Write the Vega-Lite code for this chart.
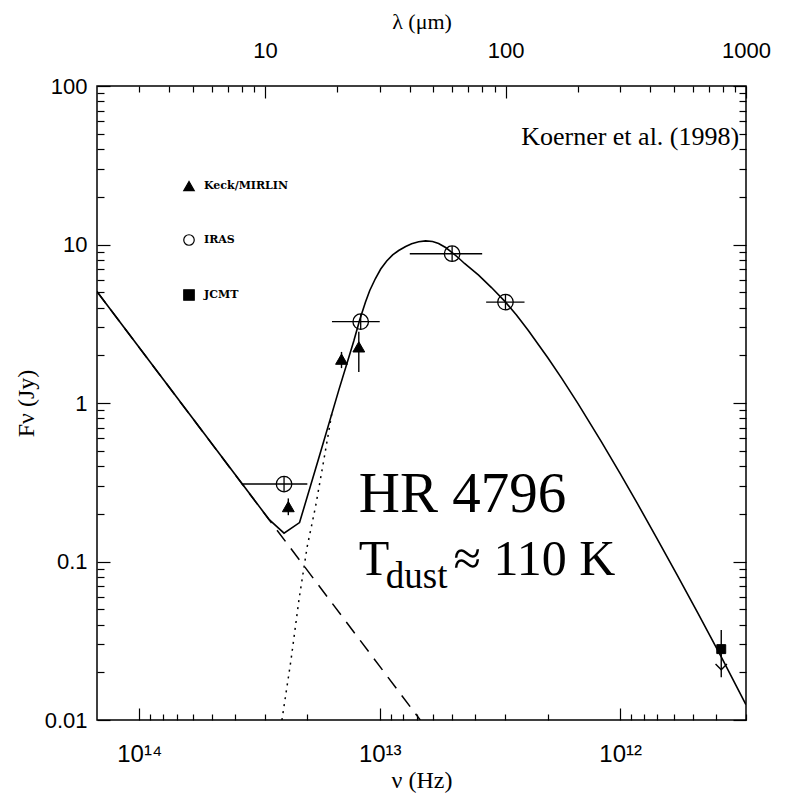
{
  "$schema": "https://vega.github.io/schema/vega-lite/v6.json",
  "width": 649,
  "height": 634,
  "autosize": {"type": "none"},
  "padding": {"left": 97, "top": 86, "right": 43, "bottom": 92},
  "background": "white",
  "config": {
    "view": {"stroke": "black", "strokeWidth": 1.5},
    "axis": {
      "grid": false,
      "domain": false,
      "tickColor": "black",
      "tickWidth": 1.2,
      "labelColor": "black",
      "labelFont": "Liberation Sans",
      "labelFontSize": 22,
      "labelOverlap": false,
      "labelBound": false,
      "labelFlush": false,
      "titleColor": "black",
      "titleFont": "Liberation Serif",
      "titleFontSize": 22,
      "titleFontWeight": "normal"
    },
    "legend": {
      "orient": "none",
      "legendX": 86,
      "legendY": 94,
      "direction": "vertical",
      "labelFont": "DejaVu Serif",
      "labelFontWeight": "bold",
      "labelFontSize": 11,
      "labelColor": "black",
      "rowPadding": 39,
      "symbolSize": 110,
      "symbolStrokeWidth": 1.2,
      "labelOffset": 9
    }
  },
  "datasets": {
    "total": [
      {"nu": 1.5e14, "F": 5.05},
      {"nu": 2.888e13, "F": 0.1845},
      {"nu": 2.5e13, "F": 0.151},
      {"nu": 2.155e13, "F": 0.176},
      {"nu": 1.791e13, "F": 0.452},
      {"nu": 1.48e13, "F": 1.206},
      {"nu": 1.282e13, "F": 2.462},
      {"nu": 1.211e13, "F": 3.35},
      {"nu": 1.146e13, "F": 4.34},
      {"nu": 1.1003e13, "F": 5.126},
      {"nu": 1.042e13, "F": 6.1},
      {"nu": 9.906e12, "F": 7.005},
      {"nu": 9.354e12, "F": 7.87},
      {"nu": 8.837e12, "F": 8.59},
      {"nu": 8.341e12, "F": 9.165},
      {"nu": 7.8e12, "F": 9.71},
      {"nu": 7.366e12, "F": 10.1},
      {"nu": 6.89e12, "F": 10.4},
      {"nu": 6.445e12, "F": 10.54},
      {"nu": 6.03e12, "F": 10.45},
      {"nu": 5.691e12, "F": 10.15},
      {"nu": 5.322e12, "F": 9.57},
      {"nu": 5.0e12, "F": 8.9},
      {"nu": 4.7e12, "F": 8.22},
      {"nu": 4.44e12, "F": 7.59},
      {"nu": 3.88e12, "F": 6.4},
      {"nu": 3.43e12, "F": 5.35},
      {"nu": 3.01e12, "F": 4.36},
      {"nu": 2.7e12, "F": 3.59},
      {"nu": 2.41e12, "F": 2.87},
      {"nu": 2.0e12, "F": 1.93},
      {"nu": 1.75e12, "F": 1.43},
      {"nu": 1.5e12, "F": 0.994},
      {"nu": 1.2e12, "F": 0.573},
      {"nu": 1.0e12, "F": 0.358},
      {"nu": 8.5e11, "F": 0.2335},
      {"nu": 7.0e11, "F": 0.138},
      {"nu": 5.8e11, "F": 0.0824},
      {"nu": 4.74e11, "F": 0.0469},
      {"nu": 3.8e11, "F": 0.02505},
      {"nu": 3.0e11, "F": 0.0125}
    ],
    "star": [
      {"nu": 1.5e14, "F": 5.05},
      {"nu": 6.785e12, "F": 0.01}
    ],
    "dust": [
      {"nu": 2.551e13, "F": 0.01},
      {"nu": 2.339e13, "F": 0.0239},
      {"nu": 2.168e13, "F": 0.0571},
      {"nu": 2.003e13, "F": 0.124},
      {"nu": 1.849e13, "F": 0.222},
      {"nu": 1.708e13, "F": 0.437},
      {"nu": 1.578e13, "F": 0.877}
    ],
    "iras": [
      {"nu": 2.5e13, "F": 0.308, "lo": 3.75e13, "hi": 2.0e13},
      {"nu": 1.2e13, "F": 3.26, "lo": 1.58e13, "hi": 1.0e13},
      {"nu": 5.0e12, "F": 8.75, "lo": 7.5e12, "hi": 3.75e12},
      {"nu": 3.0e12, "F": 4.33, "lo": 3.61e12, "hi": 2.5e12}
    ],
    "verr": [
      {"nu": 2.4e13, "Flo": 0.196, "Fhi": 0.25},
      {"nu": 1.442e13, "Flo": 1.66, "Fhi": 2.1},
      {"nu": 1.222e13, "Flo": 1.57, "Fhi": 2.82},
      {"nu": 3.8e11, "Flo": 0.0186, "Fhi": 0.037}
    ],
    "points": [
      {"inst": "Keck/MIRLIN", "nu": 2.4e13, "F": 0.222},
      {"inst": "Keck/MIRLIN", "nu": 1.442e13, "F": 1.89},
      {"inst": "Keck/MIRLIN", "nu": 1.222e13, "F": 2.26},
      {"inst": "IRAS", "nu": 2.5e13, "F": 0.308},
      {"inst": "IRAS", "nu": 1.2e13, "F": 3.26},
      {"inst": "IRAS", "nu": 5.0e12, "F": 8.75},
      {"inst": "IRAS", "nu": 3.0e12, "F": 4.33},
      {"inst": "JCMT", "nu": 3.8e11, "F": 0.028}
    ],
    "limit": [
      {"nu": 3.8e11, "F": 0.0213}
    ],
    "nudummy": [
      {"nu": 1e13, "F": 1}
    ],
    "lamdummy": [
      {"lam": 10, "F": 1}
    ],
    "bigtext": [
      {"nu": 1.222e13, "F": 0.205, "label": "HR 4796"}
    ],
    "ttext": [
      {"nu": 1.222e13, "F": 0.0822, "label": "T"},
      {"nu": 4.93e12, "F": 0.0822, "label": "≈ 110 K"}
    ],
    "subtext": [
      {"nu": 9.44e12, "F": 0.068, "label": "dust"}
    ],
    "cite": [
      {"nu": 3.2e11, "F": 42.5, "label": "Koerner et al. (1998)"}
    ]
  },
  "layer": [
    {
      "layer": [
        {
          "data": {"name": "star"},
          "mark": {"type": "line", "color": "black", "strokeWidth": 1.5, "strokeDash": [14, 9], "clip": true},
          "encoding": {
            "x": {
              "field": "nu", "type": "quantitative",
              "scale": {"type": "log", "domain": [1.499e14, 2.998e11], "nice": false, "zero": false},
              "axis": {
                "orient": "bottom",
                "title": "ν (Hz)",
                "titleFontSize": 24,
                "titlePadding": 2,
                "values": [1e12, 1e13, 1e14],
                "labelExpr": "datum.value > 5e13 ? '10\u00b9\u2074' : datum.value > 5e12 ? '10\u00b9\u00b3' : '10\u00b9\u00b2'",
                "labelFontSize": 24,
                "tickSize": 12,
                "offset": -12,
                "labelPadding": 22
              }
            },
            "y": {
              "field": "F", "type": "quantitative",
              "scale": {"type": "log", "domain": [0.01, 100], "nice": false, "zero": false},
              "axis": {
                "orient": "left",
                "title": "Fν (Jy)",
                "titleFontSize": 24,
                "titlePadding": 6,
                "values": [0.01, 0.1, 1, 10, 100],
                "labelExpr": "'' + datum.value",
                "tickSize": 13,
                "offset": -13,
                "labelPadding": 10
              }
            }
          }
        },
        {
          "data": {"name": "dust"},
          "mark": {"type": "line", "color": "black", "strokeWidth": 1.5, "strokeDash": [2, 5], "clip": true},
          "encoding": {
            "x": {"field": "nu", "type": "quantitative"},
            "y": {"field": "F", "type": "quantitative"},
            "order": {"field": "nu", "sort": "descending"}
          }
        },
        {
          "data": {"name": "total"},
          "mark": {"type": "line", "color": "black", "strokeWidth": 1.6, "clip": true},
          "encoding": {
            "x": {"field": "nu", "type": "quantitative"},
            "y": {"field": "F", "type": "quantitative"},
            "order": {"field": "nu", "sort": "descending"}
          }
        },
        {
          "data": {"name": "iras"},
          "mark": {"type": "rule", "color": "black", "strokeWidth": 1.4},
          "encoding": {
            "x": {"field": "lo", "type": "quantitative"},
            "x2": {"field": "hi"},
            "y": {"field": "F", "type": "quantitative"}
          }
        },
        {
          "data": {"name": "verr"},
          "mark": {"type": "rule", "color": "black", "strokeWidth": 1.4},
          "encoding": {
            "x": {"field": "nu", "type": "quantitative"},
            "y": {"field": "Flo", "type": "quantitative"},
            "y2": {"field": "Fhi"}
          }
        },
        {
          "data": {"name": "iras"},
          "mark": {"type": "point", "shape": "M0,-1L0,1", "size": 240, "stroke": "black", "strokeWidth": 1.3, "filled": false, "opacity": 1},
          "encoding": {
            "x": {"field": "nu", "type": "quantitative"},
            "y": {"field": "F", "type": "quantitative"}
          }
        },
        {
          "data": {"name": "limit"},
          "mark": {"type": "point", "shape": "M-1,-0.7L0,0.3L1,-0.7", "size": 130, "stroke": "black", "strokeWidth": 1.4, "filled": false, "opacity": 1},
          "encoding": {
            "x": {"field": "nu", "type": "quantitative"},
            "y": {"field": "F", "type": "quantitative"}
          }
        },
        {
          "data": {"name": "points"},
          "transform": [{"filter": "datum.inst == 'Keck/MIRLIN'"}],
          "mark": {"type": "point", "size": 140, "strokeWidth": 1, "opacity": 1},
          "encoding": {
            "x": {"field": "nu", "type": "quantitative"},
            "y": {"field": "F", "type": "quantitative"},
            "shape": {"field": "inst", "type": "nominal", "scale": {"domain": ["Keck/MIRLIN", "IRAS", "JCMT"], "range": ["triangle-up", "circle", "square"]}, "legend": {"title": null}},
            "fill": {"field": "inst", "type": "nominal", "scale": {"domain": ["Keck/MIRLIN", "IRAS", "JCMT"], "range": ["black", "transparent", "black"]}, "legend": {"title": null}},
            "stroke": {"field": "inst", "type": "nominal", "scale": {"domain": ["Keck/MIRLIN", "IRAS", "JCMT"], "range": ["black", "black", "black"]}, "legend": {"title": null}}
          }
        },
        {
          "data": {"name": "points"},
          "transform": [{"filter": "datum.inst == 'IRAS'"}],
          "mark": {"type": "point", "size": 240, "strokeWidth": 1.3, "opacity": 1},
          "encoding": {
            "x": {"field": "nu", "type": "quantitative"},
            "y": {"field": "F", "type": "quantitative"},
            "shape": {"field": "inst", "type": "nominal"},
            "fill": {"field": "inst", "type": "nominal"},
            "stroke": {"field": "inst", "type": "nominal"}
          }
        },
        {
          "data": {"name": "points"},
          "transform": [{"filter": "datum.inst == 'JCMT'"}],
          "mark": {"type": "point", "size": 80, "strokeWidth": 1, "opacity": 1},
          "encoding": {
            "x": {"field": "nu", "type": "quantitative"},
            "y": {"field": "F", "type": "quantitative"},
            "shape": {"field": "inst", "type": "nominal"},
            "fill": {"field": "inst", "type": "nominal"},
            "stroke": {"field": "inst", "type": "nominal"}
          }
        },
        {
          "data": {"name": "bigtext"},
          "mark": {"type": "text", "font": "Liberation Serif", "fontSize": 57, "align": "left", "baseline": "alphabetic", "color": "black"},
          "encoding": {
            "x": {"field": "nu", "type": "quantitative"},
            "y": {"field": "F", "type": "quantitative"},
            "text": {"field": "label"}
          }
        },
        {
          "data": {"name": "ttext"},
          "mark": {"type": "text", "font": "Liberation Serif", "fontSize": 50, "align": "left", "baseline": "alphabetic", "color": "black"},
          "encoding": {
            "x": {"field": "nu", "type": "quantitative"},
            "y": {"field": "F", "type": "quantitative"},
            "text": {"field": "label"}
          }
        },
        {
          "data": {"name": "subtext"},
          "mark": {"type": "text", "font": "Liberation Serif", "fontSize": 37, "align": "left", "baseline": "alphabetic", "color": "black"},
          "encoding": {
            "x": {"field": "nu", "type": "quantitative"},
            "y": {"field": "F", "type": "quantitative"},
            "text": {"field": "label"}
          }
        },
        {
          "data": {"name": "cite"},
          "mark": {"type": "text", "font": "Liberation Serif", "fontSize": 26, "align": "right", "baseline": "alphabetic", "color": "black"},
          "encoding": {
            "x": {"field": "nu", "type": "quantitative"},
            "y": {"field": "F", "type": "quantitative"},
            "text": {"field": "label"}
          }
        }
      ]
    },
    {
      "data": {"name": "nudummy"},
      "mark": {"type": "point", "opacity": 0},
      "encoding": {
        "x": {
          "field": "nu", "type": "quantitative",
          "scale": {"type": "log", "domain": [1.499e14, 2.998e11], "nice": false, "zero": false},
          "axis": {
            "orient": "bottom",
            "title": null,
            "labels": false,
            "values": [3e11, 4e11, 5e11, 6e11, 7e11, 8e11, 9e11, 2e12, 3e12, 4e12, 5e12, 6e12, 7e12, 8e12, 9e12, 2e13, 3e13, 4e13, 5e13, 6e13, 7e13, 8e13, 9e13],
            "tickSize": 6,
            "offset": -6
          }
        },
        "y": {
          "field": "F", "type": "quantitative",
          "scale": {"type": "log", "domain": [0.01, 100], "nice": false, "zero": false},
          "axis": {
            "orient": "left",
            "title": null,
            "labels": false,
            "values": [0.02, 0.03, 0.04, 0.05, 0.06, 0.07, 0.08, 0.09, 0.2, 0.3, 0.4, 0.5, 0.6, 0.7, 0.8, 0.9, 2, 3, 4, 5, 6, 7, 8, 9, 20, 30, 40, 50, 60, 70, 80, 90],
            "tickSize": 7,
            "offset": -7
          }
        }
      }
    },
    {
      "data": {"name": "lamdummy"},
      "mark": {"type": "point", "opacity": 0},
      "encoding": {
        "x": {
          "field": "lam", "type": "quantitative",
          "scale": {"type": "log", "domain": [2, 1000], "nice": false, "zero": false},
          "axis": {
            "orient": "top",
            "title": "λ (μm)",
            "titlePadding": 6,
            "values": [10, 100, 1000],
            "labelExpr": "'' + datum.value",
            "tickSize": 12,
            "offset": -12,
            "labelPadding": 24
          }
        },
        "y": {
          "field": "F", "type": "quantitative",
          "scale": {"type": "log", "domain": [0.01, 100], "nice": false, "zero": false},
          "axis": {
            "orient": "right",
            "title": null,
            "labels": false,
            "values": [0.01, 0.1, 1, 10, 100],
            "tickSize": 13,
            "offset": -13
          }
        }
      }
    },
    {
      "data": {"name": "lamdummy"},
      "mark": {"type": "point", "opacity": 0},
      "encoding": {
        "x": {
          "field": "lam", "type": "quantitative",
          "scale": {"type": "log", "domain": [2, 1000], "nice": false, "zero": false},
          "axis": {
            "orient": "top",
            "title": null,
            "labels": false,
            "values": [3, 4, 5, 6, 7, 8, 9, 20, 30, 40, 50, 60, 70, 80, 90, 200, 300, 400, 500, 600, 700, 800, 900],
            "tickSize": 6,
            "offset": -6
          }
        },
        "y": {
          "field": "F", "type": "quantitative",
          "scale": {"type": "log", "domain": [0.01, 100], "nice": false, "zero": false},
          "axis": {
            "orient": "right",
            "title": null,
            "labels": false,
            "values": [0.02, 0.03, 0.04, 0.05, 0.06, 0.07, 0.08, 0.09, 0.2, 0.3, 0.4, 0.5, 0.6, 0.7, 0.8, 0.9, 2, 3, 4, 5, 6, 7, 8, 9, 20, 30, 40, 50, 60, 70, 80, 90],
            "tickSize": 7,
            "offset": -7
          }
        }
      }
    }
  ],
  "resolve": {"scale": {"x": "independent"}, "axis": {"x": "independent", "y": "independent"}}
}
